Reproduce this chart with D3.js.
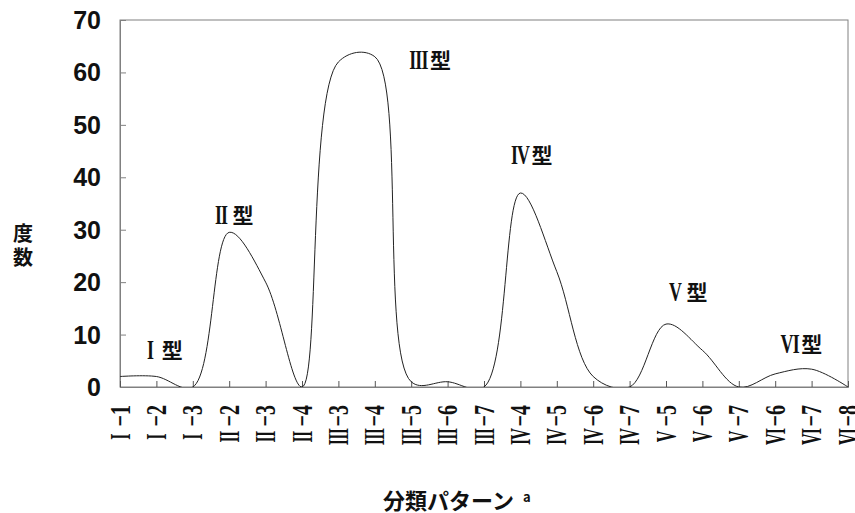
<!DOCTYPE html>
<html>
<head>
<meta charset="utf-8">
<script src="https://cdn.jsdelivr.net/npm/d3@7"></script>
<style>
  html, body { margin: 0; padding: 0; background: #fff; }
  svg { display: block; }
</style>
</head>
<body>
<svg id="chart"></svg>
<script>
// pattern categories along the x axis: [type numeral, sub number]
const typeNums = ['I', 'I', 'I', 'II', 'II', 'II', 'III', 'III', 'III', 'III', 'III',
  'IV', 'IV', 'IV', 'IV', 'V', 'V', 'V', 'VI', 'VI', 'VI'];
const subNums = [1, 2, 3, 2, 3, 4, 3, 4, 5, 6, 7, 4, 5, 6, 7, 5, 6, 7, 6, 7, 8];
const categories = typeNums.map((t, i) => `${t}-${subNums[i]}`);
// frequency per pattern
const counts = [2, 2, 0, 29.5, 20, 0, 62, 63, 1, 1, 0, 37, 22, 2, 0, 12, 7, 0, 2.5, 3.4, 0];
const yTicks = [0, 10, 20, 30, 40, 50, 60, 70];
// type labels: fractional category index + value where the label sits
const typeLabels = ['I', 'II', 'III', 'IV', 'V', 'VI'];
const labelAt = [1.13, 3.08, 8.5, 11.29, 15.55, 18.7];
const labelVal = [7.0, 32.8, 62.3, 44.2, 18.1, 8.2];

const width = 855, height = 513;
const margin = { top: 20, right: 7, bottom: 126, left: 120 };
const innerWidth = width - margin.left - margin.right;
const innerHeight = height - margin.top - margin.bottom;

const serif = '"Liberation Serif", "DejaVu Serif", serif';
const gothic = '"Noto Sans CJK JP", sans-serif';

const svg = d3.select('#chart')
  .attr('width', width)
  .attr('height', height)
  .attr('viewBox', `0 0 ${width} ${height}`);

const xScale = d3.scalePoint().domain(categories).range([0, innerWidth]);
const xIdx = d3.scaleLinear().domain([0, categories.length - 1]).range([0, innerWidth]);
const yScale = d3.scaleLinear().domain([0, 70]).range([innerHeight, 0]);

const g = svg.append('g').attr('transform', `translate(${margin.left}, ${margin.top})`);

svg.append('defs').append('clipPath').attr('id', 'plot-clip')
  .append('rect').attr('width', innerWidth).attr('height', innerHeight);

// plot frame
g.append('rect')
  .attr('width', innerWidth)
  .attr('height', innerHeight)
  .attr('fill', 'none')
  .attr('stroke', '#808080')
  .attr('stroke-width', 1);

// Y axis (ticks point inward)
const yAxis = g.append('g')
  .call(d3.axisRight(yScale).tickValues(yTicks).tickSize(6).tickFormat(''));
yAxis.select('.domain').attr('stroke', '#808080');
yAxis.selectAll('.tick line').attr('stroke', '#808080');

yTicks.forEach(v => {
  g.append('text')
    .attr('x', -19)
    .attr('y', yScale(v))
    .attr('dy', '0.36em')
    .attr('text-anchor', 'end')
    .attr('font-family', '"Liberation Sans Narrow", "Liberation Sans", sans-serif')
    .attr('font-size', '25px')
    .attr('font-weight', '700')
    .attr('fill', '#111')
    .text(v);
});

// X axis (ticks point up)
const xAxis = g.append('g')
  .attr('transform', `translate(0, ${innerHeight})`)
  .call(d3.axisTop(xScale).tickSize(6).tickFormat(''));
xAxis.select('.domain').attr('stroke', '#808080');
xAxis.selectAll('.tick line').attr('stroke', '#555');

// rotated tick labels: numeral in a full-width cell, then "−n"
categories.forEach((c, i) => {
  const lg = g.append('g')
    .attr('transform', `translate(${xScale(c)}, ${innerHeight + 18}) rotate(-90)`);
  lg.append('text')
    .attr('transform', 'scale(1, 1.45)')
    .attr('y', 6.6)
    .attr('text-anchor', 'end')
    .attr('font-family', serif)
    .attr('font-size', '20px')
    .attr('font-weight', '700')
    .attr('fill', '#111')
    .text(`\u2212${subNums[i]}`);
  lg.append('text')
    .attr('transform', 'translate(-32, 0) scale(0.8, 1.45)')
    .attr('y', 6.6)
    .attr('text-anchor', 'middle')
    .attr('font-family', serif)
    .attr('font-size', '20px')
    .attr('font-weight', '700')
    .attr('letter-spacing', '-1px')
    .attr('fill', '#111')
    .text(typeNums[i]);
});

// smoothed frequency line
const line = d3.line()
  .x((d, i) => xScale(categories[i]))
  .y(d => yScale(d))
  .curve(d3.curveCatmullRom.alpha(0.5));

g.append('path')
  .datum(counts)
  .attr('clip-path', 'url(#plot-clip)')
  .attr('fill', 'none')
  .attr('stroke', '#222')
  .attr('stroke-width', 1)
  .attr('d', line);

// type annotations: numeral cell + 型
typeLabels.forEach((t, i) => {
  const cx = xIdx(labelAt[i]);
  const cy = yScale(labelVal[i]);
  g.append('text')
    .attr('transform', `translate(${cx - 11}, ${cy}) scale(0.85, 1.3)`)
    .attr('y', 6.9)
    .attr('text-anchor', 'middle')
    .attr('font-family', serif)
    .attr('font-size', '21px')
    .attr('font-weight', '700')
    .attr('letter-spacing', '-1px')
    .attr('fill', '#111')
    .text(t);
  g.append('text')
    .attr('x', cx + 11)
    .attr('y', cy)
    .attr('dy', '0.36em')
    .attr('text-anchor', 'middle')
    .attr('font-family', gothic)
    .attr('font-size', '21px')
    .attr('font-weight', '700')
    .attr('fill', '#111')
    .text('型');
});

// Y label, stacked vertically
['度', '数'].forEach((ch, i) => {
  svg.append('text')
    .attr('x', 23)
    .attr('y', 234 + i * 24)
    .attr('dy', '0.36em')
    .attr('text-anchor', 'middle')
    .attr('font-family', gothic)
    .attr('font-size', '20px')
    .attr('font-weight', '700')
    .attr('fill', '#111')
    .text(ch);
});

// X label
const xl = svg.append('text')
  .attr('x', 383)
  .attr('y', 501)
  .attr('dy', '0.36em')
  .attr('text-anchor', 'start')
  .attr('font-family', gothic)
  .attr('font-size', '22px')
  .attr('font-weight', '700')
  .attr('fill', '#111');
xl.append('tspan').text('分類パターン');
xl.append('tspan')
  .attr('dx', 9)
  .attr('dy', '-0.5em')
  .attr('font-size', '13px')
  .text('a');
</script>
</body>
</html>
